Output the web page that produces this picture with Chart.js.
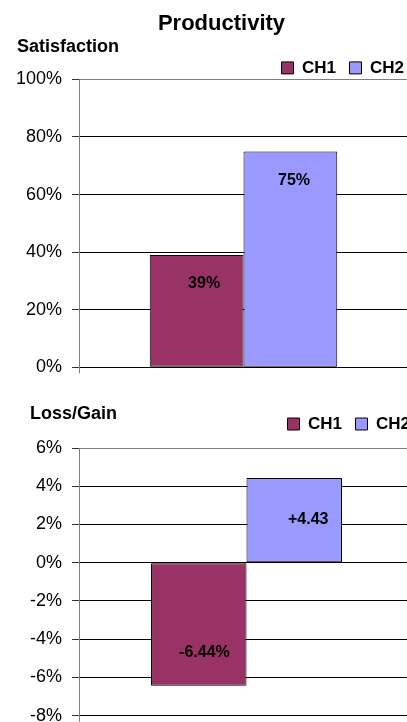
<!DOCTYPE html>
<html><head><meta charset="utf-8">
<script src="https://cdn.jsdelivr.net/npm/chart.js@4.4.1/dist/chart.umd.min.js"></script>
<style>
html,body{margin:0;padding:0;background:#fff;overflow:hidden;width:407px;height:722px;position:relative;}
#c1{position:absolute;left:0;top:0;}
#c2{position:absolute;left:0;top:385px;}
</style></head>
<body>
<canvas id="c1" width="426" height="386"></canvas>
<canvas id="c2" width="414" height="360"></canvas>
<script>
// ---- data ----
const categories = [''];
const seriesNames = ['CH1', 'CH2'];
const seriesColors = ['#993366', '#9999FF'];
const satisfaction = [39, 75];          // %
const satisfactionLabels = ['39%', '75%'];
const satisfactionTicks = [0, 20, 40, 60, 80, 100];
const lossGain = [-6.44, 4.43];         // %
const lossGainLabels = ['-6.44%', '+4.43'];
const lossGainTicks = [-8, -6, -4, -2, 0, 2, 4, 6];

Chart.defaults.font.family = '"Liberation Sans", Arial, sans-serif';
Chart.defaults.color = '#000';

const barLabels = {
  id: 'barLabels',
  afterDatasetsDraw(chart, args, opts) {
    const ctx = chart.ctx;
    ctx.save();
    ctx.font = 'bold 16px "Liberation Sans", Arial, sans-serif';
    ctx.fillStyle = '#000';
    ctx.textAlign = 'center';
    ctx.textBaseline = 'middle';
    chart.data.datasets.forEach((ds, i) => {
      const meta = chart.getDatasetMeta(i);
      meta.data.forEach((bar, j) => {
        const v = ds.data[j];
        const off = opts.offsets[i];
        const y = bar.y + (v >= 0 ? off.dy : -off.dy);
        ctx.fillText(opts.texts[i], bar.x + off.dx, y);
      });
    });
    ctx.restore();
  }
};

function legendLabels(size) {
  return {
    font: { size: size, weight: 'bold' },
    boxWidth: 12, boxHeight: 12, padding: 4, color: '#000',
    generateLabels: (chart) => {
      const items = Chart.defaults.plugins.legend.labels.generateLabels(chart);
      items.forEach((it, i) => { if (i < items.length - 1) it.text = it.text + '\u00a0\u00a0'; });
      return items;
    }
  };
}

function makeDatasets(values) {
  return seriesNames.map((name, i) => ({
    label: name,
    data: [values[i]],
    backgroundColor: seriesColors[i],
    borderColor: '#000',
    borderWidth: 1,
    borderSkipped: false,
    categoryPercentage: 0.57,
    barPercentage: 1.0
  }));
}

function yScale(ticksArr, width, grayVals) {
  return {
    min: ticksArr[0], max: ticksArr[ticksArr.length - 1],
    ticks: { stepSize: ticksArr[1] - ticksArr[0], callback: v => v + '%', font: { size: 18 }, padding: 10, color: '#000' },
    grid: {
      color: c => (c.tick && grayVals.includes(c.tick.value)) ? '#808080' : '#000',
      tickColor: '#333', tickLength: 7, lineWidth: 1
    },
    border: { color: '#808080', width: 1 },
    afterFit: s => { s.width = width; s.paddingTop = 0; s.paddingBottom = 0; }
  };
}

function xScale(height) {
  return {
    grid: { display: true, drawOnChartArea: false, drawTicks: true, tickLength: 6, color: '#808080' },
    border: { display: true, color: '#000' },
    ticks: { display: true },
    afterFit: s => { s.height = height; }
  };
}

new Chart(document.getElementById('c1'), {
  type: 'bar',
  data: { labels: categories, datasets: makeDatasets(satisfaction) },
  options: {
    responsive: false, animation: false,
    layout: { padding: { left: 17, top: 0, right: 0, bottom: 0 } },
    plugins: {
      title: { display: true, text: 'Productivity', font: { size: 22, weight: 'bold' }, padding: { top: 11, bottom: -1.3 }, color: '#000' },
      subtitle: { display: true, text: 'Satisfaction', align: 'start', font: { size: 18, weight: 'bold' }, padding: { top: 0, bottom: -2.3 }, color: '#000' },
      legend: { position: 'top', align: 'end', fullSize: false, maxHeight: 24, labels: legendLabels(17) },
      tooltip: { enabled: false },
      barLabels: { texts: satisfactionLabels, offsets: [{ dx: 7.5, dy: 28.5 }, { dx: 3.7, dy: 29 }] }
    },
    scales: {
      x: xScale(18.7),
      y: yScale(satisfactionTicks, 62, [100]),
      yR: { type: 'linear', position: 'right', display: true, grid: { display: false }, ticks: { display: false }, border: { display: false }, afterFit: s => { s.width = 18; s.paddingTop = 0; s.paddingBottom = 0; } }
    }
  },
  plugins: [barLabels]
});

new Chart(document.getElementById('c2'), {
  type: 'bar',
  data: { labels: categories, datasets: makeDatasets(lossGain) },
  options: {
    responsive: false, animation: false,
    layout: { padding: { left: 30, top: 0, right: 0, bottom: 0 } },
    plugins: {
      title: { display: true, text: 'Loss/Gain', align: 'start', font: { size: 18, weight: 'bold' }, padding: { top: 18.7, bottom: -13.8 }, color: '#000' },
      subtitle: { display: true, text: '', weight: 0, font: { size: 10, lineHeight: 0 }, padding: { top: 5.5, bottom: 0 } },
      legend: { position: 'top', align: 'end', fullSize: false, labels: legendLabels(17) },
      tooltip: { enabled: false },
      barLabels: { texts: lossGainLabels, offsets: [{ dx: 5.7, dy: 33.6 }, { dx: 14, dy: 41.8 }] }
    },
    scales: {
      x: xScale(29.3),
      y: yScale(lossGainTicks, 49, [6, -8])
    }
  },
  plugins: [barLabels]
});
</script>
</body></html>
